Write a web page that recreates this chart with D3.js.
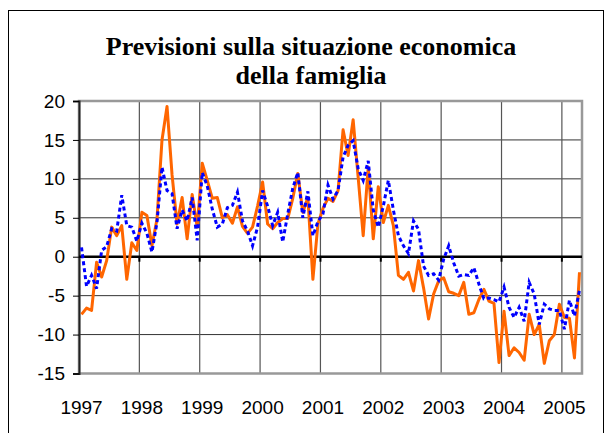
<!DOCTYPE html>
<html>
<head>
<meta charset="utf-8">
<script src="https://cdn.jsdelivr.net/npm/d3@7"></script>
<style>
    body { margin: 0; background: #fff; }
    .axis-label { font-family: "Liberation Sans", Arial, sans-serif; font-size: 19px; fill: #000; }
    .title { font-family: "Liberation Serif", "Times New Roman", serif; font-weight: bold; font-size: 26px; fill: #000; }
</style>
</head>
<body>
<div id="chart"></div>
<script>
var canvas_width = 611,
    canvas_height = 433;

// tick labels
var years = ["1997", "1998", "1999", "2000", "2001", "2002", "2003", "2004", "2005"];
var yTicks = [-15, -10, -5, 0, 5, 10, 15, 20];

// monthly values, Jan 1997 - Apr 2005
var orangeValues = [
    -7.4, -6.6, -6.9, -0.7, -2.6, -0.5, 3.8, 2.7, 4.0, -2.9, 1.8, 0.8,
    5.7, 5.3, 1.4, 4.8, 15.0, 19.3, 10.5, 4.2, 7.6, 2.3, 8.0, 3.8,
    12.0, 9.8, 7.5, 7.6, 5.0, 5.4, 4.3, 6.4, 3.9, 3.0, 3.8, 6.5,
    9.6, 4.2, 3.6, 4.4, 4.9, 4.9, 7.5, 10.7, 5.7, 7.6, -2.9, 4.2,
    6.2, 7.5, 7.1, 8.5, 16.3, 13.0, 17.6, 10.2, 2.7, 11.5, 2.3, 9.0,
    4.4, 6.6, 4.0, -2.4, -2.9, -2.0, -4.4, -0.5, -4.0, -8.0, -4.8, -3.1,
    -2.7, -4.5, -4.7, -5.0, -3.3, -7.4, -7.2, -5.5, -4.2, -5.7, -6.0, -13.6,
    -7.0, -12.7, -11.7, -12.3, -13.3, -7.4, -10.0, -8.7, -13.7, -10.8, -10.0, -6.1,
    -7.8, -7.9, -13.0, -2.0
];

var blueValues = [
    1.2, -3.8, -2.4, -4.1, 0.8, 1.3, 3.6, 3.3, 7.9, 4.0, 3.8, 2.0,
    4.3, 3.0, 0.6, 4.4, 11.5, 8.5, 8.1, 3.6, 6.0, 4.6, 7.6, 2.1,
    10.8, 9.1, 6.1, 3.8, 4.2, 6.3, 6.6, 8.3, 4.6, 3.3, 1.4, 3.8,
    8.5, 6.5, 4.0, 5.7, 1.9, 5.5, 8.8, 10.8, 5.0, 8.4, 2.7, 4.5,
    5.5, 9.2, 7.4, 8.5, 12.8, 14.3, 14.9, 11.3, 9.8, 12.3, 6.0, 3.8,
    6.5, 9.8, 6.0, 2.7, 1.4, 0.4, 4.6, 3.5, -1.2, -2.4, -2.2, -3.0,
    -0.3, 1.4, -0.8, -2.5, -2.3, -2.4, -1.4, -3.5, -5.4, -5.3, -5.5, -5.8,
    -3.9, -6.5, -7.8, -6.5, -8.3, -3.3, -4.8, -8.7, -6.1, -6.7, -6.9, -6.9,
    -9.3, -5.6, -7.6, -4.3
];

var margin = { top: 101, right: 29, bottom: 59.5, left: 79 };
var width = canvas_width - margin.left - margin.right;
var height = canvas_height - margin.top - margin.bottom;

var svg = d3.select("#chart")
    .append("svg")
    .attr("width", canvas_width)
    .attr("height", canvas_height);

// outer frame
svg.append("rect")
    .attr("x", 8.5)
    .attr("y", 10.5)
    .attr("width", 595)
    .attr("height", 440)
    .attr("fill", "#fff")
    .attr("stroke", "#000")
    .attr("stroke-width", 1);

svg.append("text")
    .attr("class", "title")
    .attr("x", 311)
    .attr("y", 55)
    .attr("text-anchor", "middle")
    .text("Previsioni sulla situazione economica");

svg.append("text")
    .attr("class", "title")
    .attr("x", 311)
    .attr("y", 84)
    .attr("text-anchor", "middle")
    .text("della famiglia");

var months = d3.range(orangeValues.length);

var xScale = d3.scaleBand()
    .domain(months)
    .range([0, width]);

var yScale = d3.scaleLinear()
    .domain([-15, 20])
    .range([height, 0]);

var g = svg.append("g")
    .attr("transform", "translate(" + margin.left + "," + margin.top + ")");

// horizontal grid
g.selectAll(".hgrid")
    .data(yTicks)
    .enter()
    .append("line")
    .attr("x1", 0)
    .attr("x2", width)
    .attr("y1", d => yScale(d))
    .attr("y2", d => yScale(d))
    .attr("stroke", "#333")
    .attr("stroke-width", 1);

// vertical grid at year boundaries
var yearStarts = years.map((y, i) => i * 12).filter(i => i > 0);
g.selectAll(".vgrid")
    .data(yearStarts)
    .enter()
    .append("line")
    .attr("x1", d => xScale(d))
    .attr("x2", d => xScale(d))
    .attr("y1", 0)
    .attr("y2", height)
    .attr("stroke", "#555")
    .attr("stroke-width", 1.2);

// plot frame (gray)
g.append("rect")
    .attr("x", 0)
    .attr("y", 0)
    .attr("width", width)
    .attr("height", height)
    .attr("fill", "none")
    .attr("stroke", "#999")
    .attr("stroke-width", 2.5);

// y axis
var yAxis = g.append("g")
    .call(d3.axisLeft(yScale).tickValues(yTicks).tickFormat(d => String(d)).tickSize(6).tickPadding(8));
yAxis.select(".domain").attr("stroke", "#222").attr("stroke-width", 2);
yAxis.selectAll(".tick line").attr("stroke", "#000").attr("stroke-width", 1);
yAxis.selectAll("text")
    .attr("class", "axis-label")
    .attr("font-size", null)
    .attr("font-family", null);
yAxis.attr("font-size", null).attr("font-family", null);

// zero line with ticks
g.append("line")
    .attr("x1", 0)
    .attr("x2", width)
    .attr("y1", yScale(0))
    .attr("y2", yScale(0))
    .attr("stroke", "#000")
    .attr("stroke-width", 2.5);

g.selectAll(".zerotick")
    .data(yearStarts)
    .enter()
    .append("line")
    .attr("x1", d => xScale(d))
    .attr("x2", d => xScale(d))
    .attr("y1", yScale(0))
    .attr("y2", yScale(0) + 5)
    .attr("stroke", "#000")
    .attr("stroke-width", 2);

// year labels under the plot
g.selectAll(".year-label")
    .data(years)
    .enter()
    .append("text")
    .attr("class", "axis-label")
    .attr("x", (d, i) => xScale(i * 12) + xScale.bandwidth() / 2)
    .attr("y", height + 40)
    .attr("text-anchor", "middle")
    .text(d => d);

var line = d3.line()
    .x((d, i) => xScale(i) + xScale.bandwidth() / 2)
    .y(d => yScale(d));

g.append("path")
    .datum(orangeValues)
    .attr("fill", "none")
    .attr("stroke", "#FF6600")
    .attr("stroke-width", 3)
    .attr("stroke-linejoin", "round")
    .attr("d", line);

g.append("path")
    .datum(blueValues)
    .attr("fill", "none")
    .attr("stroke", "#0000FF")
    .attr("stroke-width", 3)
    .attr("stroke-dasharray", "4,3")
    .attr("d", line);
</script>
</body>
</html>
